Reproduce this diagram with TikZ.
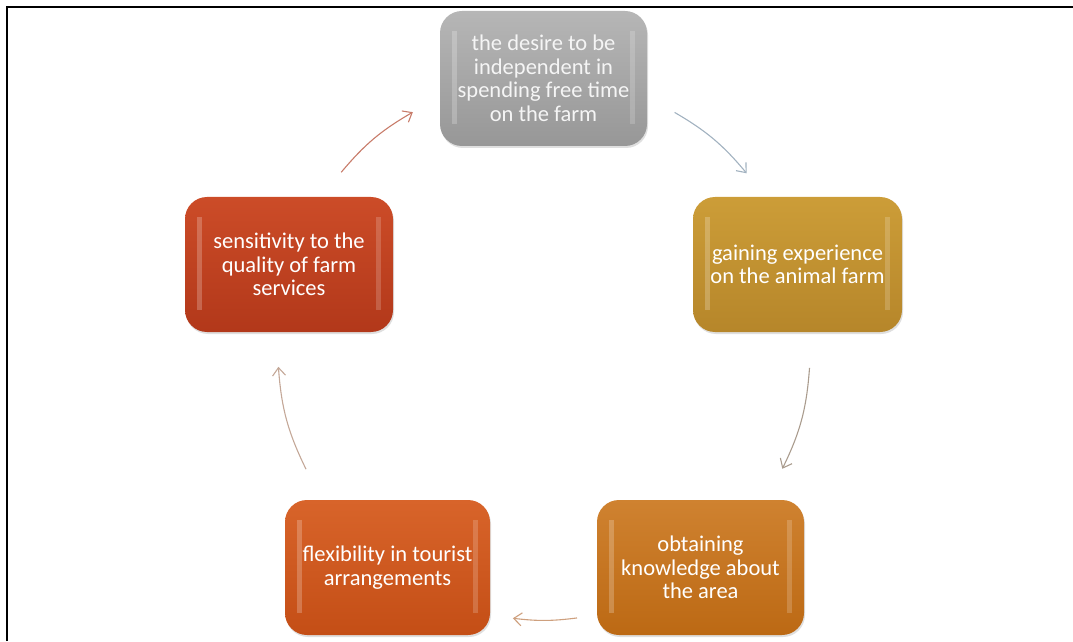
\documentclass[tikz,border=0pt]{standalone}
\usepackage{fontspec}
\setmainfont{Carlito}
\usetikzlibrary{calc,positioning,arrows.meta,shadows}
\usepackage{xcolor}

\definecolor{grayTop}{HTML}{B6B6B6}
\definecolor{grayBot}{HTML}{979797}
\definecolor{goldTop}{HTML}{CC9D38}
\definecolor{goldBot}{HTML}{B6862A}
\definecolor{ambTop}{HTML}{CF8230}
\definecolor{ambBot}{HTML}{BC6914}
\definecolor{rustTop}{HTML}{D8642A}
\definecolor{rustBot}{HTML}{C44E16}
\definecolor{redTop}{HTML}{CC4C28}
\definecolor{redBot}{HTML}{B2381A}

\begin{document}
\begin{tikzpicture}[x=1pt,y=1pt,
    stage/.style={rounded corners=22pt, minimum width=207pt, minimum height=135pt,
        inner sep=0pt, align=center, text=white,
        font=\fontsize{22.5}{23.5}\selectfont,
        drop shadow={shadow xshift=1pt, shadow yshift=-2pt, opacity=.25},
        path picture={
            \fill[sharp corners, white, opacity=.22] ([xshift=12pt,yshift=-20pt]path picture bounding box.north west)
                rectangle ([xshift=17pt,yshift=22pt]path picture bounding box.south west);
            \fill[sharp corners, white, opacity=.18] ([xshift=-17pt,yshift=-20pt]path picture bounding box.north east)
                rectangle ([xshift=-12pt,yshift=22pt]path picture bounding box.south east);
        }},
    flow/.style={line width=1.1pt, -{Straight Barb[length=8pt,width=13pt]}}]
    \useasboundingbox (0,0) rectangle (1073,641);
    % frame lines, top and left
    \draw[line width=2.3pt] (6.8,0) -- (6.8,634.2) -- (1073,634.2);

    % the five stages
    \node[stage, top color=grayTop, bottom color=grayBot, text=white!92!gray] (desire) at (543.5,562.5)
        {the desire to be\\ independent in\\ spending free time\\ on the farm};
    \node[stage, top color=goldTop, bottom color=goldBot, minimum width=209pt] (experience) at (797.5,376.5)
        {gaining experience\\ on the animal farm};
    \node[stage, top color=ambTop, bottom color=ambBot] (knowledge) at (700.5,73.5)
        {obtaining\\ knowledge about\\ the area};
    \node[stage, top color=rustTop, bottom color=rustBot, minimum width=205pt] (flexibility) at (387.5,73.5)
        {flexibility in tourist\\ arrangements};
    \node[stage, top color=redTop, bottom color=redBot, minimum width=208pt] (sensitivity) at (289,376.5)
        {sensitivity to the\\ quality of farm\\ services};

    % arrow ends on a circle round the hub
    \coordinate (hub) at (543.5,296);
    \foreach \name/\ang/\rad in {s1/139.5/266, d0/119.3/267, d1/60.6/267, e0/40.2/266,
            e1/-4.9/267, k0/-27.4/269, k1/-83/275, f0/-96.4/275, f1/207.6/268, s0/184.7/266} {
        \coordinate (\name) at ($(hub)+(\ang:\rad)$);
    }
    \draw[flow, color={rgb,255:red,200;green,124;blue,106}] (s1) to[bend left=10] (d0);
    \draw[flow, color={rgb,255:red,162;green,178;blue,192}] (d1) to[bend left=10] (e0);
    \draw[flow, color={rgb,255:red,170;green,156;blue,142}] (e1) to[bend left=11] (k0);
    \draw[flow, color={rgb,255:red,206;green,160;blue,126}] (k1) to[bend left=7] (f0);
    \draw[flow, color={rgb,255:red,196;green,168;blue,152}] (f1) to[bend left=11] (s0);
\end{tikzpicture}
\end{document}
